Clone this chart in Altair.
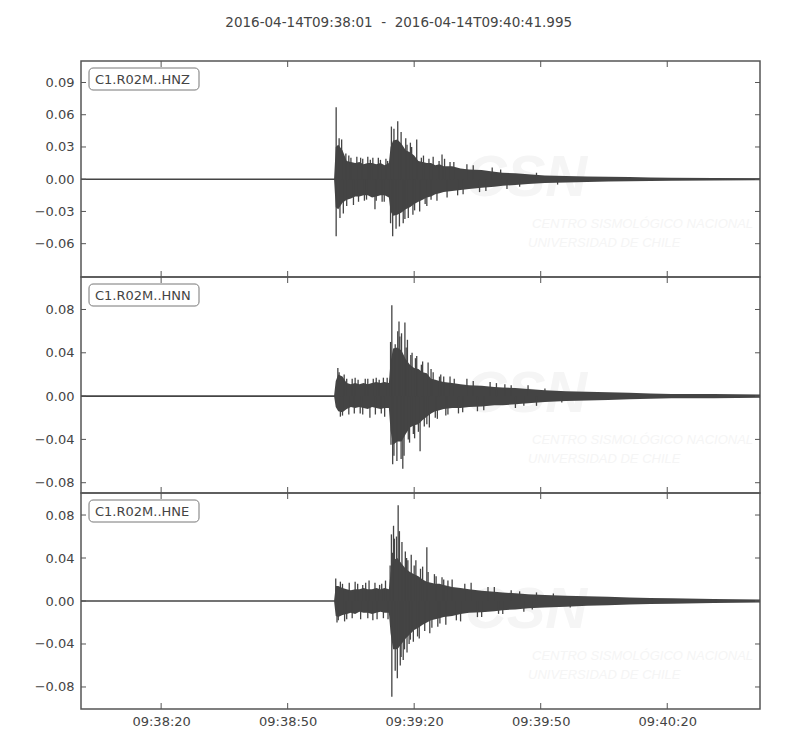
import altair as alt
import pandas as pd

NB = "\u00a0"
TITLE = "2016-04-14T09:38:01" + NB + NB + "-" + NB + NB + "2016-04-14T09:40:41.995"
CHANNELS = ["C1.R02M..HNZ", "C1.R02M..HNN", "C1.R02M..HNE"]
DURATION = 160.995  # seconds after 09:38:01
X_TICKS = [19, 49, 79, 109, 139]
X_LABELS = ["09:38:20", "09:38:50", "09:39:20", "09:39:50", "09:40:20"]
Y_DOMAINS = [[-0.091, 0.110], [-0.0895, 0.110], [-0.1005, 0.1005]]
Y_TICKS = [
    [-0.06, -0.03, 0.0, 0.03, 0.06, 0.09],
    [-0.08, -0.04, 0.0, 0.04, 0.08],
    [-0.08, -0.04, 0.0, 0.04, 0.08],
]
QUIET_T = [0.0, DURATION]
QUIET_V = [0.0, 0.0]

# envelope time grid (s after 09:38:01)
CORE_T = [60.0, 60.4, 61, 62, 63, 64, 65, 66, 67, 68, 69, 70, 71, 72, 73, 73.4,
          74, 75, 76, 77, 78, 79, 80, 81, 82, 83, 84, 85, 86, 88, 90, 92, 95, 98,
          100, 103, 106, 110, 115, 120, 125, 130, 135, 140, 150, 161]

HNZ_HI = [0.0, 0.030, 0.032, 0.027, 0.017, 0.016, 0.015, 0.016, 0.014, 0.015, 0.015,
          0.014, 0.015, 0.013, 0.015, 0.030, 0.036, 0.037, 0.033, 0.027, 0.025, 0.022,
          0.017, 0.016, 0.015, 0.015, 0.013, 0.014, 0.012, 0.012, 0.010, 0.009, 0.0085,
          0.007, 0.006, 0.0055, 0.0045, 0.0035, 0.003, 0.0025, 0.0022, 0.002, 0.0017,
          0.0014, 0.0011, 0.001]
HNZ_LO = [0.0, -0.026, -0.028, -0.022, -0.019, -0.018, -0.016, -0.016, -0.015, -0.015,
          -0.017, -0.016, -0.015, -0.015, -0.017, -0.030, -0.034, -0.033, -0.031, -0.028,
          -0.026, -0.023, -0.021, -0.019, -0.017, -0.016, -0.014, -0.013, -0.012, -0.011,
          -0.010, -0.009, -0.008, -0.007, -0.006, -0.0055, -0.0045, -0.0035, -0.003,
          -0.0025, -0.0022, -0.002, -0.0017, -0.0014, -0.0011, -0.001]

HNN_HI = [0.0, 0.014, 0.020, 0.018, 0.012, 0.011, 0.012, 0.011, 0.012, 0.011, 0.012,
          0.013, 0.012, 0.013, 0.012, 0.032, 0.044, 0.045, 0.042, 0.034, 0.029, 0.026,
          0.025, 0.022, 0.021, 0.016, 0.015, 0.014, 0.013, 0.012, 0.011, 0.010, 0.0095,
          0.0085, 0.008, 0.0075, 0.0065, 0.0055, 0.0045, 0.004, 0.0035, 0.003, 0.0025,
          0.002, 0.002, 0.0015]
HNN_LO = [0.0, -0.010, -0.014, -0.015, -0.012, -0.010, -0.011, -0.010, -0.011, -0.012,
          -0.010, -0.011, -0.012, -0.011, -0.011, -0.032, -0.045, -0.042, -0.042, -0.035,
          -0.029, -0.027, -0.026, -0.022, -0.019, -0.016, -0.014, -0.013, -0.012, -0.011,
          -0.011, -0.010, -0.0095, -0.0085, -0.0085, -0.0075, -0.0065, -0.0055, -0.0045,
          -0.004, -0.0035, -0.003, -0.0025, -0.002, -0.002, -0.0015]

HNE_HI = [0.0, 0.014, 0.014, 0.012, 0.011, 0.010, 0.011, 0.011, 0.012, 0.011, 0.011,
          0.012, 0.011, 0.012, 0.011, 0.026, 0.038, 0.040, 0.035, 0.030, 0.027, 0.025,
          0.023, 0.020, 0.018, 0.017, 0.016, 0.016, 0.015, 0.013, 0.012, 0.011, 0.0095,
          0.0085, 0.008, 0.0072, 0.0063, 0.0055, 0.005, 0.0045, 0.004, 0.0032, 0.0028,
          0.0025, 0.0018, 0.0015]
HNE_LO = [0.0, -0.014, -0.015, -0.013, -0.012, -0.011, -0.012, -0.010, -0.011, -0.011,
          -0.012, -0.011, -0.010, -0.011, -0.011, -0.030, -0.045, -0.045, -0.040, -0.035,
          -0.031, -0.027, -0.025, -0.022, -0.020, -0.018, -0.017, -0.016, -0.015, -0.014,
          -0.012, -0.011, -0.0105, -0.0095, -0.0085, -0.0078, -0.0068, -0.006, -0.0053,
          -0.0045, -0.004, -0.0032, -0.0028, -0.0025, -0.0018, -0.0015]

# individual peaks (time, amplitude)
HNZ_SPK_T = [60.5, 60.5, 61.2, 61.8, 61.4, 62.2, 63.5, 64.6, 65.4, 66.3, 67.2, 68.0, 69.7,
             70.5, 71.4, 72.3, 73.6, 73.9, 74.2, 74.7, 75.1, 75.5, 75.9, 76.4, 77.0, 77.6,
             78.1, 78.7, 79.6, 80.3, 81.2, 82.0, 83.5, 84.4, 85.6, 86.8, 88.4, 90.6, 93.0,
             96.0, 99.5, 104.0,
             62.8, 63.0, 64.0, 65.8, 66.8, 67.7, 68.6, 69.2, 70.0, 71.0, 71.9, 72.7, 73.4,
             76.8, 77.3, 78.4, 79.1, 80.7, 81.6, 82.5, 83.0, 84.9, 86.2, 87.5, 89.3, 91.5,
             94.5, 97.5, 101.0, 108.0, 113.0]
HNZ_SPK_V = [0.067, -0.053, 0.038, 0.037, -0.036, -0.032, 0.022, -0.024, 0.021, 0.020,
             -0.020, 0.021, -0.028, 0.020, -0.021, 0.019, 0.049, -0.053, 0.047, -0.046,
             0.054, -0.044, 0.044, -0.041, 0.038, -0.036, 0.034, -0.033, 0.037, -0.030,
             0.022, -0.025, 0.021, -0.020, 0.023, -0.017, 0.016, -0.014, 0.013, -0.011,
             0.009, -0.007,
             0.024, -0.025, 0.020, -0.021, 0.019, -0.019, 0.018, 0.020, -0.020, 0.018,
             -0.021, 0.017, -0.041, -0.037, 0.032, 0.030, -0.029, 0.020, -0.023, 0.019,
             -0.019, 0.017, 0.019, 0.016, -0.015, 0.014, -0.012, 0.011, -0.009, 0.006,
             -0.005]

HNN_SPK_T = [60.9, 61.5, 62.4, 63.5, 65.0, 66.2, 67.4, 68.5, 70.0, 71.2, 72.0, 72.6, 73.7,
             73.9, 74.5, 74.9, 75.4, 75.9, 76.3, 76.8, 77.4, 77.9, 78.5, 79.1, 79.6, 80.4,
             81.0, 82.3, 82.6, 83.5, 84.5, 85.3, 86.5, 87.5, 89.5, 91.5, 94.0, 97.0, 100.5,
             103.0, 106.0, 108.0,
             61.2, 62.0, 63.0, 64.3, 64.8, 65.7, 66.8, 68.0, 69.3, 69.8, 70.7, 71.7, 73.4,
             73.5, 74.2, 75.1, 75.6, 76.0, 76.6, 77.1, 77.6, 78.2, 78.8, 79.3, 80.0, 80.7,
             81.4, 82.0, 83.0, 84.0, 85.0, 86.0, 87.0, 88.5, 90.5, 93.0, 95.5, 98.5, 102.0,
             105.0, 110.0, 114.0]
HNN_SPK_V = [0.026, -0.019, 0.020, -0.017, 0.017, -0.016, 0.016, -0.020, 0.017, -0.016,
             -0.019, 0.017, 0.084, -0.063, 0.048, -0.060, 0.069, -0.058, -0.067, 0.068,
             0.052, -0.043, 0.040, -0.039, 0.037, -0.051, 0.032, 0.031, -0.029, 0.022,
             -0.021, 0.020, -0.018, 0.018, -0.016, 0.016, -0.014, 0.013, 0.011, -0.011,
             0.010, -0.009,
             0.022, -0.018, 0.016, 0.016, -0.016, 0.015, -0.017, 0.016, 0.016, -0.017,
             0.015, 0.017, 0.050, -0.045, -0.055, 0.060, 0.055, 0.058, -0.055, 0.045,
             -0.040, 0.038, -0.035, 0.035, -0.033, 0.029, -0.028, -0.026, 0.025, -0.020,
             0.018, 0.018, -0.017, 0.016, -0.015, 0.014, -0.013, 0.012, 0.010, -0.009,
             0.007, -0.006]

HNE_SPK_T = [60.4, 60.7, 61.5, 62.5, 63.6, 65.0, 66.3, 67.5, 68.3, 69.2, 70.2, 71.3, 72.2,
             72.8, 73.3, 73.6, 73.7, 74.1, 74.5, 75.0, 75.2, 75.7, 76.1, 76.4, 76.9, 77.3,
             77.8, 78.3, 78.8, 79.4, 80.2, 81.0, 82.0, 82.7, 83.8, 84.6, 85.6, 86.5, 88.0,
             90.0, 92.5, 95.0, 98.0, 100.0, 102.0, 105.0, 108.0,
             61.0, 62.0, 63.0, 64.3, 65.6, 66.8, 68.0, 69.7, 70.8, 71.7, 73.9, 74.3, 74.8,
             75.5, 75.9, 76.7, 77.2, 77.5, 78.1, 79.0, 79.8, 80.5, 81.5, 82.3, 83.2, 84.2,
             85.1, 86.0, 87.0, 89.0, 91.0, 94.0, 96.5, 99.0, 104.0, 107.0, 112.0, 116.0]
HNE_SPK_V = [0.021, -0.020, 0.018, -0.019, 0.017, 0.018, -0.017, 0.017, 0.019, -0.018,
             -0.017, 0.016, 0.019, -0.017, 0.033, 0.062, -0.089, 0.070, -0.065, -0.072,
             0.089, -0.060, 0.055, -0.055, 0.046, -0.048, -0.040, 0.043, -0.038, 0.038,
             -0.035, 0.032, 0.050, -0.030, 0.025, -0.024, 0.022, -0.022, 0.020, -0.019,
             0.017, -0.015, 0.013, -0.012, 0.010, -0.010, 0.008,
             -0.018, 0.016, -0.017, -0.016, 0.016, 0.015, -0.016, 0.017, 0.015, -0.016,
             0.045, 0.058, 0.060, 0.065, -0.052, -0.045, 0.040, 0.038, -0.036, 0.033,
             -0.033, 0.030, -0.028, 0.027, -0.025, 0.023, -0.021, 0.020, 0.019, -0.018,
             0.016, -0.015, 0.013, -0.012, 0.009, -0.008, 0.007, -0.006]

ENVELOPES = [(HNZ_HI, HNZ_LO), (HNN_HI, HNN_LO), (HNE_HI, HNE_LO)]
SPIKES = [(HNZ_SPK_T, HNZ_SPK_V), (HNN_SPK_T, HNN_SPK_V), (HNE_SPK_T, HNE_SPK_V)]
WATERMARK = ["CSN", "CENTRO SISMOLÓGICO NACIONAL", "UNIVERSIDAD DE CHILE"]

W, H = 679, 216
INK = "#444444"
FRAME = "#555555"
FONT = "DejaVu Sans"
FAINT = "#f5f5f5"

label_expr = "".join(f"datum.value == {v} ? '{l}' : " for v, l in zip(X_TICKS, X_LABELS)) + "''"


def panel(i, show_x):
    xs = alt.Scale(domain=[0, DURATION], nice=False, zero=False)
    ys = alt.Scale(domain=Y_DOMAINS[i], nice=False, zero=False)
    if show_x:
        xaxis = alt.Axis(values=X_TICKS, labelExpr=label_expr, ticks=False, tickSize=0,
                         domain=False, grid=False, labelPadding=6, title=None,
                         labelFont=FONT, labelFontSize=13, labelColor=INK)
    else:
        xaxis = alt.Axis(values=X_TICKS, labels=False, ticks=False, tickSize=0,
                         domain=False, grid=False, title=None)
    yaxis = alt.Axis(values=Y_TICKS[i], format=".2f", ticks=False, tickSize=0,
                     domain=False, grid=False, labelPadding=7, title=None,
                     labelFont=FONT, labelFontSize=13, labelColor=INK)

    def X(f):
        return alt.X(f, type="quantitative", scale=xs, axis=xaxis)

    def Y(f):
        return alt.Y(f, type="quantitative", scale=ys, axis=yaxis)

    hi, lo = ENVELOPES[i]
    core = pd.DataFrame({"t": CORE_T, "hi": hi, "lo": lo})
    st, sv = SPIKES[i]
    spk = pd.DataFrame({"t": st, "v": sv})
    quiet = pd.DataFrame({"t": QUIET_T, "v": QUIET_V})
    yt = pd.DataFrame({"v": Y_TICKS[i]})
    xt = pd.DataFrame({"v": X_TICKS})
    lab = pd.DataFrame({"name": [CHANNELS[i]]})
    wm = pd.DataFrame({"txt": WATERMARK})

    wm_csn = alt.Chart(wm.iloc[[0]]).mark_text(
        font="Liberation Sans", fontSize=58, fontWeight="bold", fontStyle="italic",
        color=FAINT, align="center", baseline="middle"
    ).encode(text="txt:N", x=alt.value(445), y=alt.value(118))
    wm_l1 = alt.Chart(wm.iloc[[1]]).mark_text(
        font="Liberation Sans", fontSize=13, fontStyle="italic",
        color=FAINT, align="left", baseline="middle"
    ).encode(text="txt:N", x=alt.value(451), y=alt.value(163))
    wm_l2 = alt.Chart(wm.iloc[[2]]).mark_text(
        font="Liberation Sans", fontSize=13, fontStyle="italic",
        color=FAINT, align="left", baseline="middle"
    ).encode(text="txt:N", x=alt.value(447), y=alt.value(182))

    base_line = alt.Chart(quiet).mark_line(color=INK, strokeWidth=1.6).encode(
        x=X("t"), y=Y("v"))
    area = alt.Chart(core).mark_area(color=INK, opacity=1).encode(
        x=X("t"), y=Y("hi"), y2="lo")
    spikes = alt.Chart(spk).mark_rule(color=INK, strokeWidth=1.3).encode(
        x=X("t"), y=Y("v"), y2=alt.datum(0))

    ytl = alt.Chart(yt).mark_rule(color=FRAME, strokeWidth=1).encode(
        y=Y("v"), x=alt.value(0), x2=alt.value(5))
    ytr = alt.Chart(yt).mark_rule(color=FRAME, strokeWidth=1).encode(
        y=Y("v"), x=alt.value(W - 5), x2=alt.value(W))
    xtt = alt.Chart(xt).mark_rule(color=FRAME, strokeWidth=1).encode(
        x=X("v"), y=alt.value(0), y2=alt.value(6))
    xtb = alt.Chart(xt).mark_rule(color=FRAME, strokeWidth=1).encode(
        x=X("v"), y=alt.value(H - 6), y2=alt.value(H))

    box = alt.Chart(lab).mark_rect(fill="white", stroke="#777777", strokeWidth=1,
                                   cornerRadius=4).encode(
        x=alt.value(8), x2=alt.value(118), y=alt.value(7), y2=alt.value(29))
    txt = alt.Chart(lab).mark_text(font=FONT, fontSize=13, color=INK, align="left",
                                   baseline="middle").encode(
        text="name:N", x=alt.value(14), y=alt.value(18.5))

    return alt.layer(wm_csn, wm_l1, wm_l2, base_line, area, spikes,
                     ytl, ytr, xtt, xtb, box, txt).properties(width=W, height=H)


chart = alt.vconcat(
    panel(0, False), panel(1, False), panel(2, True), spacing=0, bounds="flush"
).properties(
    title=alt.TitleParams(TITLE, font=FONT, fontSize=13.5, fontWeight="normal",
                          color=INK, anchor="middle", dx=0, offset=30),
    padding={"left": 25, "top": 8, "right": 10, "bottom": 5},
).configure(
    font=FONT,
    view=alt.ViewConfig(stroke=FRAME, strokeWidth=1.5),
)

chart.save("out.html", embed_options={"renderer": "svg", "actions": False})
